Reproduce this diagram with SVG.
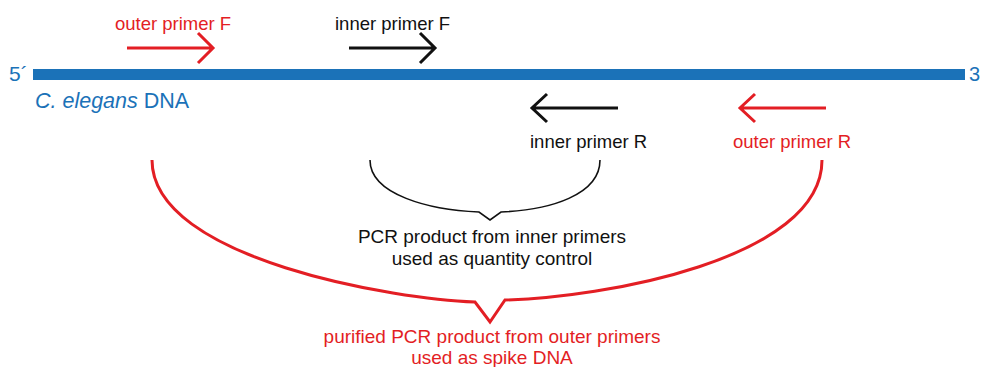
<svg xmlns="http://www.w3.org/2000/svg" width="984" height="367" viewBox="0 0 984 367">
<style>
text{font-family:"Liberation Sans",Arial,sans-serif;font-size:18.5px}
.big{font-size:19px}
.red{fill:#e31e24}
.blk{fill:#111}
.blue{fill:#1b72b8}
.arr{fill:none;stroke-width:3;stroke-linecap:butt;stroke-linejoin:miter}
.rs{stroke:#e31e24}
.bs{stroke:#111}
.brace{fill:none;stroke-linejoin:miter}
</style>
<rect width="984" height="367" fill="#fff"/>
<g id="dna">
<rect x="33" y="69" width="932" height="11" fill="#1b72b8"/>
<text class="blue" x="9" y="81" style="font-size:21px">5´</text>
<text class="blue" x="969" y="81" style="font-size:20px">3</text>
<text class="blue" x="35" y="108" style="font-size:21.5px"><tspan font-style="italic">C. elegans</tspan> DNA</text>
</g>
<g id="outerF">
<text class="red" x="115" y="30">outer primer F</text>
</g>
<g id="innerF">
<text class="blk" x="335" y="30">inner primer F</text>
</g>
<g id="innerR">
<text class="blk" x="530" y="148">inner primer R</text>
</g>
<g id="outerR">
<text class="red" x="733" y="148">outer primer R</text>
</g>
<g id="innerProduct">
<text class="blk big" x="492" y="243" text-anchor="middle">PCR product from inner primers</text>
<text class="blk big" x="492" y="265" text-anchor="middle">used as quantity control</text>
</g>
<g id="outerProduct">
<text class="red big" x="492" y="343" text-anchor="middle">purified PCR product from outer primers</text>
<text class="red big" x="492" y="364" text-anchor="middle">used as spike DNA</text>
</g>
<g id="connectors">
<path class="arr rs" d="M127,48 H212 M198,33 L213,48 L198,63"/>
<path class="arr bs" d="M349,48 H434 M420,33 L435,48 L420,63"/>
<path class="arr bs" d="M618,108 H533 M547,94 L532,108 L547,122"/>
<path class="arr rs" d="M826,108 H741 M755,94 L740,108 L755,122"/>
<path class="brace" stroke="#111" stroke-width="1.6" d="M370,160 C370,195 430,210 479,212 L490,220 L501,212 C550,210 600,195 600,160"/>
<path class="brace" stroke="#e31e24" stroke-width="3" d="M152,160 C152,260 400,300 475,302 L490,322 L505,300 C600,298 822,260 822,160"/>
</g>
</svg>
